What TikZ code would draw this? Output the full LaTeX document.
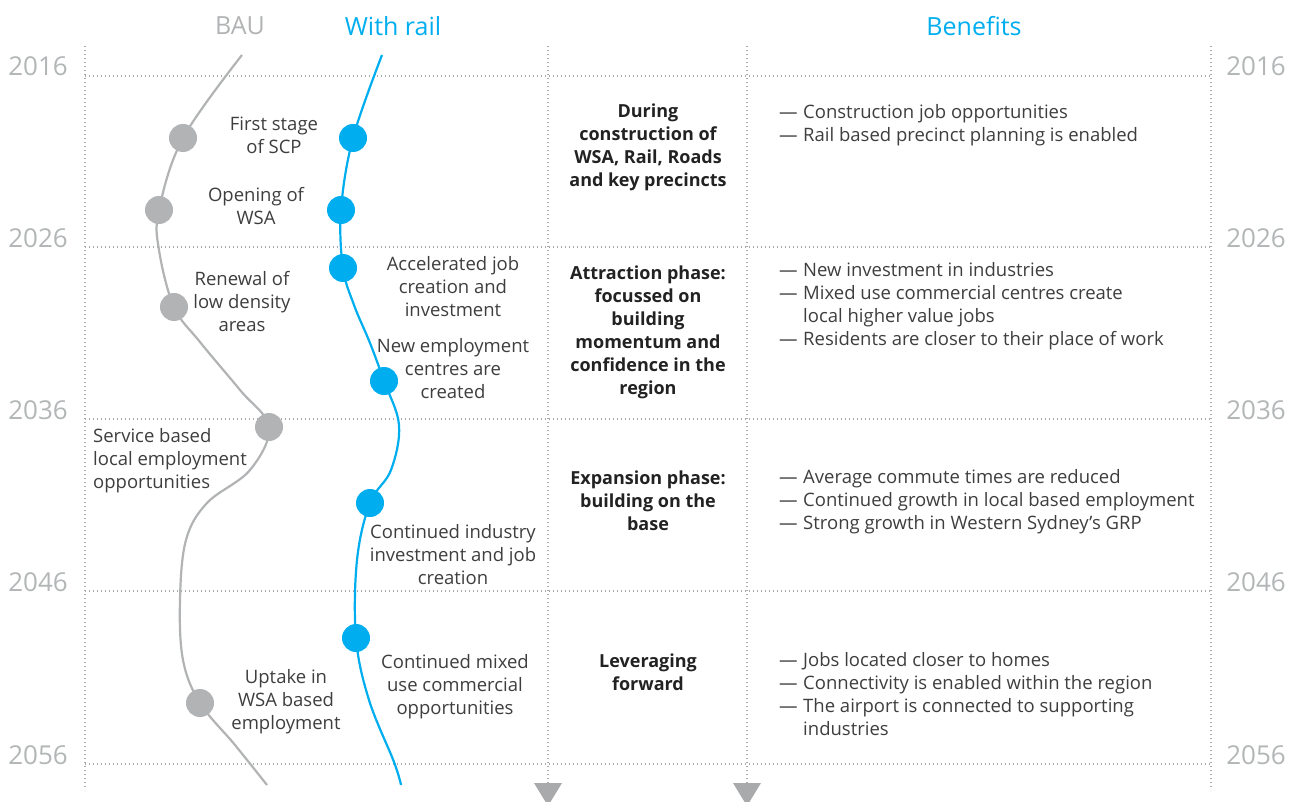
\documentclass[tikz,border=0pt]{standalone}
\usepackage{fontspec}
\setmainfont{Open Sans}
\definecolor{railblue}{HTML}{00AEEF}
\definecolor{baugrey}{HTML}{B1B3B4}
\definecolor{yeargrey}{HTML}{B3B6B7}
\definecolor{gridgrey}{HTML}{A8AAAC}
\definecolor{txt}{HTML}{3E3E3E}
\definecolor{boldtxt}{HTML}{222222}
\begin{document}
\begin{tikzpicture}[x=1pt,y=-1pt,
  grid/.style={draw=gridgrey,line width=1.2pt,dash pattern=on 1.2pt off 2.8pt},
  year/.style={font=\fontsize{26}{30}\selectfont,text=yeargrey,inner sep=0pt},
  head/.style={font=\fontsize{25}{30}\selectfont,inner sep=0pt},
  lbl/.style={font=\fontsize{18.5}{23}\selectfont,text=txt,align=center,inner sep=0pt},
  lbll/.style={font=\fontsize{18.5}{23}\selectfont,text=txt,align=left,inner sep=0pt},
  phase/.style={font=\fontsize{18}{23}\selectfont\bfseries,text=boldtxt,align=center,inner sep=0pt},
  ben/.style={font=\fontsize{18.5}{23}\selectfont,text=txt,align=left,inner sep=0pt,anchor=west},
  bdot/.style={circle,fill=baugrey,minimum size=28pt,inner sep=0pt},
  rdot/.style={circle,fill=railblue,minimum size=28pt,inner sep=0pt},
  tri/.style={fill=gridgrey}
]
\useasboundingbox (0,0) rectangle (1297,802);

% grid
\foreach \yy in {76,247,419,591,764} \draw[grid] (85,\yy) -- (1211,\yy);
\foreach \xx in {85,548,747,1211} \draw[grid] (\xx,46) -- (\xx,790);
\fill[tri] (534,783) -- (562,783) -- (548,806) -- cycle;
\fill[tri] (733,783) -- (761,783) -- (747,806) -- cycle;

% years
\foreach \yy/\yr in {66/2016,238/2026,410/2036,582/2046,755/2056}{
  \node[year] (yl\yr) at (38,\yy) {\yr};
  \node[year] (yr\yr) at (1256,\yy) {\yr};
}

% headers
\node[head,text=baugrey] (hbau) at (240,26) {BAU};
\node[head,text=railblue] (hrail) at (393,26) {With rail};
\node[head,text=railblue] (hben) at (974,26) {Benefits};

% BAU curve
\coordinate (g0) at (242,55);
\coordinate (g1) at (183,138);
\coordinate (g2) at (159,210);
\coordinate (gc) at (159,250);
\coordinate (g3) at (174,307);
\coordinate (gd) at (200,342);
\coordinate (ge) at (240,390);
\coordinate (g4) at (269,427);
\coordinate (gf) at (250,470);
\coordinate (gg) at (207,503);
\coordinate (gh) at (186,540);
\coordinate (gi) at (180,600);
\coordinate (gj) at (183,660);
\coordinate (g5) at (200,703);
\coordinate (gk) at (235,745);
\coordinate (g6) at (267,785);
\draw[baugrey,line width=2.2pt] plot[smooth,tension=0.6] coordinates {(g0) (g1) (g2) (gc) (g3) (gd) (ge) (g4) (gf) (gg) (gh) (gi) (gj) (g5) (gk) (g6)};

% Rail curve
\coordinate (r0) at (382,55);
\coordinate (r1) at (353,138);
\coordinate (r2) at (341,210);
\coordinate (r3) at (343,268);
\coordinate (rc) at (354,305);
\coordinate (rd) at (370,343);
\coordinate (r4) at (384,381);
\coordinate (re) at (399,425);
\coordinate (rf) at (391,470);
\coordinate (r5) at (370,503);
\coordinate (rg) at (357,560);
\coordinate (r6) at (356,638);
\coordinate (rh) at (369,700);
\coordinate (ri) at (394,762);
\coordinate (r7) at (401,785);
\draw[railblue,line width=2.2pt] plot[smooth,tension=0.6] coordinates {(r0) (r1) (r2) (r3) (rc) (rd) (r4) (re) (rf) (r5) (rg) (r6) (rh) (ri) (r7)};

% dots
\foreach \n in {1,...,5} \node[bdot] (gd\n) at (g\n) {};
\foreach \n in {1,...,6} \node[rdot] (rd\n) at (r\n) {};

% curve labels
\node[lbl] (l1) at (274,135) {First stage\\of SCP};
\node[lbl] (l2) at (256,206) {Opening of\\WSA};
\node[lbl] (l3) at (242,302) {Renewal of\\low density\\areas};
\node[lbl] (l4) at (453,287) {Accelerated job\\creation and\\investment};
\node[lbl] (l5) at (453,369) {New employment\\centres are\\created};
\node[lbll,anchor=west] (l6) at (93,461) {Service based\\local employment\\opportunities};
\node[lbl] (l7) at (453,555) {Continued industry\\investment and job\\creation};
\node[lbl] (l8) at (286,702) {Uptake in\\WSA based\\employment};
\node[lbl] (l9) at (455,687) {Continued mixed\\use commercial\\opportunities};

% phases
\node[phase] (p1) at (648,147) {During\\construction of\\WSA, Rail, Roads\\and key precincts};
\node[phase] (p2) at (648,332) {Attraction phase:\\focussed on\\building\\momentum and\\confidence in the\\region};
\node[phase] (p3) at (648,501) {Expansion phase:\\building on the\\base};
\node[phase] (p4) at (648,672) {Leveraging\\forward};

% benefits
\newcommand{\bl}{\makebox[24pt][l]{—}}
\newcommand{\bc}{\hspace*{24pt}}
\node[ben] (b1) at (779,125) {\bl Construction job opportunities\\\bl Rail based precinct planning is enabled};
\node[ben] (b2) at (779,306) {\bl New investment in industries\\\bl Mixed use commercial centres create\\\bc local higher value jobs\\\bl Residents are closer to their place of work};
\node[ben] (b3) at (779,502) {\bl Average commute times are reduced\\\bl Continued growth in local based employment\\\bl Strong growth in Western Sydney’s GRP};
\node[ben] (b4) at (779,694) {\bl Jobs located closer to homes\\\bl Connectivity is enabled within the region\\\bl The airport is connected to supporting\\\bc industries};
\end{tikzpicture}
\end{document}
